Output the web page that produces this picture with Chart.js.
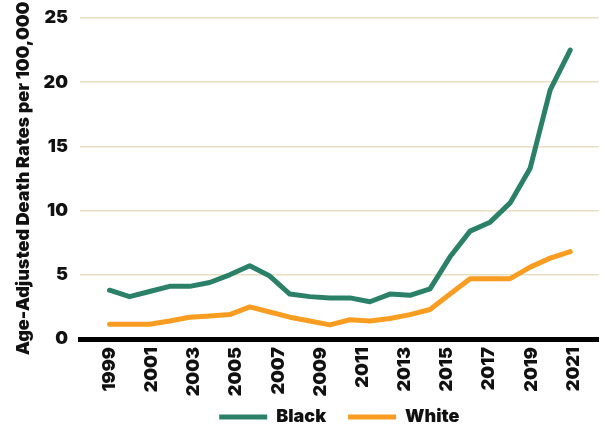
<!DOCTYPE html>
<html>
<head>
<meta charset="utf-8">
<script src="https://cdn.jsdelivr.net/npm/chart.js@4/dist/chart.umd.min.js"></script>
<style>
  body { margin: 0; background: #fff; }
  #wrap { width: 603px; height: 427px; }
</style>
</head>
<body>
<div id="wrap"><canvas id="rateChart"></canvas></div>
<script>
// sample positions along the year axis (24 readings, 1999 to late 2020)
const pointYears = [1999, 1999.95, 2000.9, 2001.85, 2002.8, 2003.75, 2004.7, 2005.65,
  2006.6, 2007.55, 2008.5, 2009.45, 2010.4, 2011.35, 2012.3, 2013.25,
  2014.2, 2015.15, 2016.1, 2017.05, 2018, 2018.95, 2019.9, 2020.85];
const blackRates = [3.8, 3.3, 3.7, 4.1, 4.1, 4.4, 5.0, 5.7, 4.9, 3.5, 3.3, 3.2,
  3.2, 2.9, 3.5, 3.4, 3.9, 6.4, 8.4, 9.1, 10.6, 13.3, 19.4, 22.5];
const whiteRates = [1.15, 1.15, 1.15, 1.4, 1.7, 1.8, 1.9, 2.5, 2.1, 1.7, 1.4, 1.1,
  1.5, 1.4, 1.6, 1.9, 2.3, 3.5, 4.7, 4.7, 4.7, 5.6, 6.3, 6.8];
const tickYears = [1999, 2001, 2003, 2005, 2007, 2009, 2011, 2013, 2015, 2017, 2019, 2021];
const yTicks = [0, 5, 10, 15, 20, 25];

const heavy = { family: 'Inter', weight: 900, size: 18 };

function toPoints(values) {
  return values.map((v, i) => ({ x: pointYears[i], y: v }));
}

function lineStyle(label, values, color) {
  return {
    label: label,
    data: toPoints(values),
    borderColor: color,
    backgroundColor: color,
    borderWidth: 5,
    borderCapStyle: 'round',
    borderJoinStyle: 'round',
    pointRadius: 0,
    tension: 0
  };
}

document.addEventListener('DOMContentLoaded', function () {
  const ctx = document.getElementById('rateChart').getContext('2d');

  new Chart(ctx, {
    type: 'line',
    data: {
      datasets: [
        lineStyle('Black', blackRates, '#2b8068'),
        lineStyle('White', whiteRates, '#f89d22')
      ]
    },
    options: {
      responsive: true,
      maintainAspectRatio: false,
      animation: false,
      layout: { padding: { top: 18, left: 0, right: 0, bottom: -9 } },
      plugins: {
        tooltip: { enabled: false },
        legend: {
          position: 'bottom',
          fullSize: false,
          labels: {
            usePointStyle: true,
            pointStyle: 'line',
            pointStyleWidth: 48,
            padding: 22,
            color: '#111',
            font: heavy
          }
        }
      },
      scales: {
        x: {
          type: 'linear',
          min: 1997.6,
          max: 2022.2,
          afterBuildTicks: axis => {
            axis.ticks = tickYears.map(v => ({ value: v }));
          },
          // tight axis box so the legend sits close; let the year labels run past it
          afterFit: axis => {
            axis.height = 47;
            axis._computeLabelArea = () => undefined;
          },
          grid: { display: false, drawTicks: false },
          border: { color: '#000', width: 5 },
          ticks: {
            autoSkip: false,
            minRotation: 90,
            maxRotation: 90,
            padding: 8,
            color: '#111',
            font: heavy,
            callback: v => String(v)
          }
        },
        y: {
          min: 0,
          max: 25,
          afterBuildTicks: axis => {
            axis.ticks = yTicks.map(v => ({ value: v }));
          },
          afterFit: axis => {
            axis.width = 80;
            axis.paddingTop = 0;
            axis.paddingBottom = 0;
          },
          grid: { color: '#e6dfc2', lineWidth: 1.5, drawTicks: false },
          border: { display: false },
          ticks: { padding: 12, color: '#111', font: heavy },
          title: {
            display: true,
            text: 'Age-Adjusted Death Rates per 100,000',
            color: '#111',
            font: heavy,
            padding: { top: 13, bottom: 4 }
          }
        }
      }
    }
  });
});
</script>
</body>
</html>
